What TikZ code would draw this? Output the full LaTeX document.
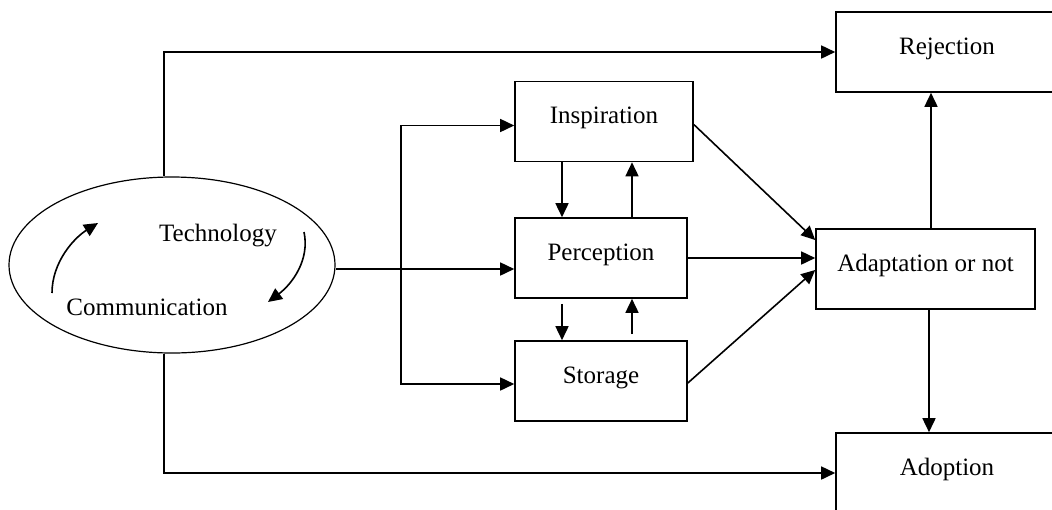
\documentclass[tikz,border=0pt]{standalone}
\usepackage{fontspec}
\setmainfont{Liberation Serif}
\usetikzlibrary{arrows.meta, shapes.geometric}

\tikzset{
  stage/.style={draw, line width=0.8pt, inner sep=0pt, minimum height=40pt,
                text height=9pt, text depth=7pt,
                font=\fontsize{12.5}{15}\selectfont},
  arr/.style={line width=0.8pt, -{Triangle[length=7pt, width=6.5pt]}}
}

\begin{document}
\begin{tikzpicture}[x=0.5pt, y=-0.5pt]
                \useasboundingbox (0,0) rectangle (1052,509);
                \clip (0,0) rectangle (1052,509);
                % Draw the ellipse with its two labels
                \node[ellipse, draw, line width=0.6pt, inner sep=0pt,
                      minimum width=163pt, minimum height=88pt] (comm) at (172,265) {};
                \node[font=\fontsize{12.5}{15}\selectfont] (tech) at (218,236) {Technology};
                \node[font=\fontsize{12.5}{15}\selectfont] (commu) at (147,307) {Communication};
                \coordinate (cl1) at (52,293);
                \coordinate (cl2) at (98,223);
                \coordinate (cr1) at (304,232);
                \coordinate (cr2) at (268,302);
                \draw[arr] (cl1) .. controls (52,262) and (74,238) .. (cl2);
                \draw[arr] (cr1) .. controls (310,260) and (292,284) .. (cr2);

                % Draw the boxes
                \node[stage, minimum width=89pt] (insp) at (604,121.5) {Inspiration};
                \node[stage, minimum width=86pt] (perc) at (601,258) {Perception};
                \node[stage, minimum width=86pt] (stor) at (601,381) {Storage};
                \node[stage, minimum width=109.5pt] (adap) at (925.5,269) {Adaptation or not};
                \node[stage, minimum width=111pt] (rej) at (947,52) {Rejection};
                \node[stage, minimum width=111pt] (adop) at (947,473) {Adoption};

                % Draw the links out of the ellipse
                \coordinate (fork) at (401,269);
                \draw[arr] ([xshift=-4pt]comm.north) |- (rej.west);
                \draw[arr] ([xshift=-4pt]comm.south) |- (adop.west);
                \draw[arr] (comm.east |- fork) -- (fork -| perc.west);
                \draw[arr] (fork) |- ([yshift=-2pt]insp.west);
                \draw[arr] (fork) |- ([yshift=-1.5pt]stor.west);

                % Draw the links between the middle boxes
                \draw[arr] ([xshift=-21pt]insp.south) -- ([xshift=-21pt]insp.south |- perc.north);
                \draw[arr] ([xshift=14pt]insp.south |- perc.north) -- ([xshift=14pt]insp.south);
                \draw[arr] ([xshift=-19.5pt, yshift=-2.5pt]perc.south) -- ([xshift=-19.5pt]perc.south |- stor.north);
                \draw[arr, shorten <=3pt] ([xshift=15.5pt]perc.south |- stor.north) -- ([xshift=15.5pt]perc.south);

                % Draw the links into and out of the adaptation box
                \draw[arr] ([yshift=-1.5pt]insp.east) -- ([yshift=14.5pt]adap.west);
                \draw[arr] (perc.east) -- (perc.east -| adap.west);
                \draw[arr] ([yshift=-1pt]stor.east) -- ([yshift=-0.5pt]adap.west);
                \draw[arr] ([xshift=2.75pt]adap.north) -- ([xshift=2.75pt]adap.north |- rej.south);
                \draw[arr] ([xshift=1.75pt]adap.south) -- ([xshift=1.75pt]adap.south |- adop.north);
            \end{tikzpicture}
\end{document}
